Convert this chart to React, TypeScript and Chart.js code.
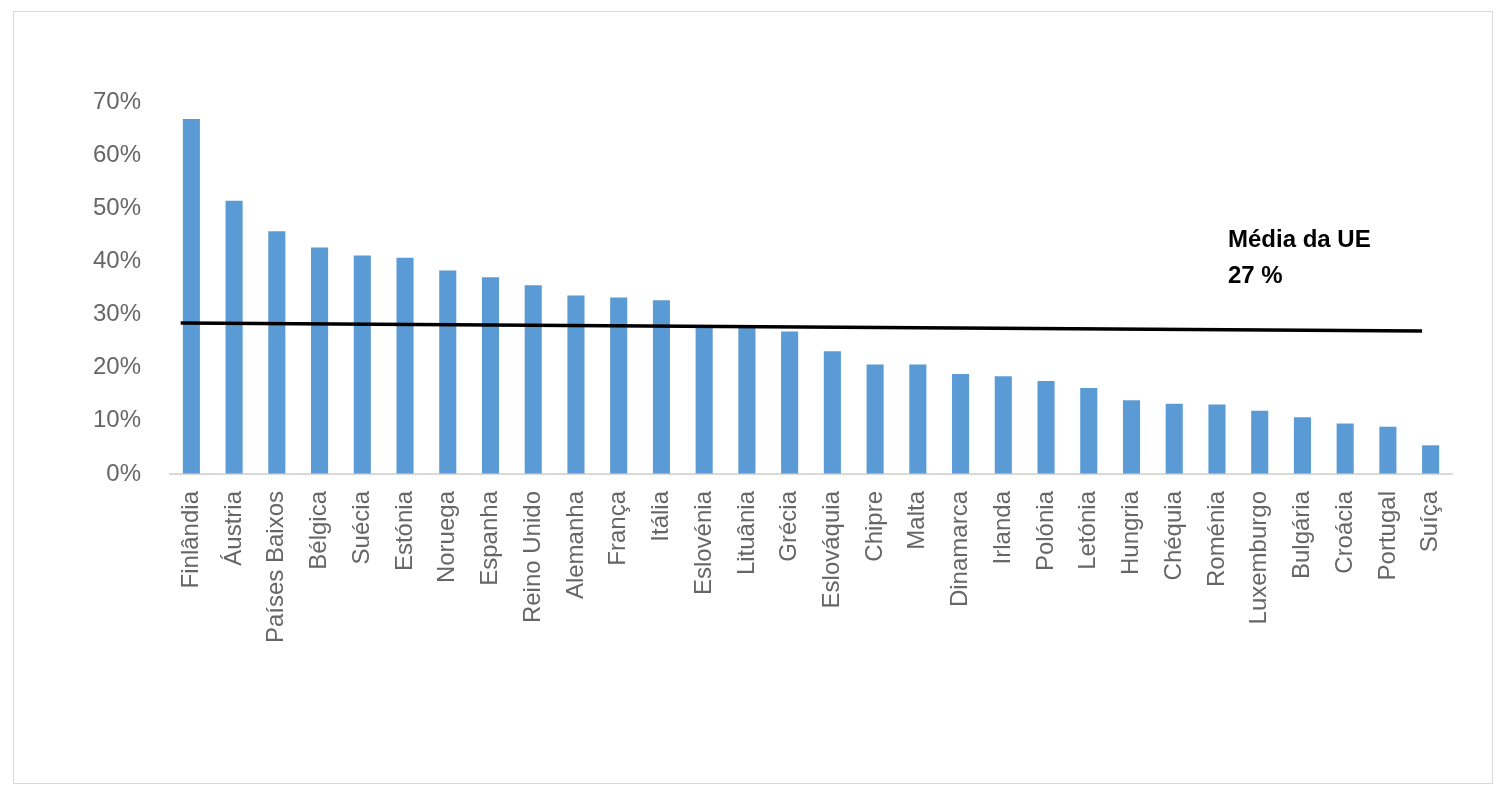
import React, { useEffect, useRef } from "react";
import { Chart, registerables } from "chart.js";

Chart.register(...registerables);

const countries = [
  "Finlândia", "Áustria", "Países Baixos", "Bélgica", "Suécia", "Estónia", "Noruega",
  "Espanha", "Reino Unido", "Alemanha", "França", "Itália", "Eslovénia", "Lituânia",
  "Grécia", "Eslováquia", "Chipre", "Malta", "Dinamarca", "Irlanda", "Polónia",
  "Letónia", "Hungria", "Chéquia", "Roménia", "Luxemburgo", "Bulgária", "Croácia",
  "Portugal", "Suíça",
];

const shares = [
  66.8, 51.4, 45.7, 42.6, 41.1, 40.7, 38.3,
  37.0, 35.5, 33.6, 33.2, 32.7, 27.7, 27.7,
  26.8, 23.1, 20.6, 20.6, 18.8, 18.4, 17.5,
  16.2, 13.9, 13.2, 13.1, 11.9, 10.7, 9.5,
  8.9, 5.4,
];

// EU average line: start and end points (category position, value)
const avgLineX = [-0.25, 28.8];
const avgLineY = [28.4, 26.9];

const avgLabel = ["Média da UE", "27 %"];

const yTicks = [0, 10, 20, 30, 40, 50, 60, 70];

const FONT = '"Liberation Sans", Arial, Helvetica, sans-serif';

export default function App() {
  const ref = useRef<HTMLCanvasElement | null>(null);

  useEffect(() => {
    if (!ref.current) return;

    const annotationPlugin = {
      id: "avgAnnotation",
      afterDraw(chart: any) {
        const { ctx, chartArea } = chart;
        ctx.save();
        ctx.fillStyle = "#000";
        ctx.font = `bold 24px ${FONT}`;
        ctx.textAlign = "left";
        ctx.textBaseline = "alphabetic";
        const x = chartArea.left + 1058;
        ctx.fillText(avgLabel[0], x, chartArea.top + 145);
        ctx.fillText(avgLabel[1], x, chartArea.top + 181);
        ctx.restore();
      },
    };

    const chart = new Chart(ref.current, {
      type: "bar",
      data: {
        labels: countries,
        datasets: [
          {
            type: "bar",
            data: shares,
            backgroundColor: "#5b9bd5",
            barPercentage: 0.5,
            categoryPercentage: 0.8,
            grouped: false,
            order: 2,
          } as any,
          {
            type: "line",
            xAxisID: "x2",
            data: avgLineX.map((x, i) => ({ x, y: avgLineY[i] })),
            borderColor: "#000",
            borderWidth: 3.5,
            pointRadius: 0,
            fill: false,
            order: 1,
          } as any,
        ],
      },
      options: {
        responsive: false,
        animation: false,
        layout: { padding: { left: 0, top: 90, right: 40, bottom: 0 } },
        plugins: {
          legend: { display: false },
          tooltip: { enabled: false },
          title: { display: false },
        },
        scales: {
          x: {
            type: "category",
            grid: { drawOnChartArea: false, drawTicks: false, color: "transparent" },
            border: { display: true, color: "#d9d9d9", width: 2 },
            ticks: {
              color: "#666666",
              font: { size: 24, family: FONT },
              maxRotation: 90,
              minRotation: 90,
              padding: 17,
              autoSkip: false,
            },
            afterFit(scale: any) {
              scale.height = 309;
            },
          },
          x2: {
            type: "linear",
            position: "top",
            display: true,
            offset: false,
            min: -0.5,
            max: 29.5,
            grid: { display: false, offset: false, drawTicks: false },
            border: { display: false },
            ticks: { display: false },
            afterFit(scale: any) {
              scale.height = 0;
              scale.paddingLeft = 0;
              scale.paddingRight = 0;
            },
          },
          y: {
            min: 0,
            max: 70,
            afterBuildTicks(scale: any) {
              scale.ticks = yTicks.map((v) => ({ value: v }));
            },
            grid: { drawOnChartArea: false, drawTicks: false, color: "transparent" },
            border: { display: false },
            ticks: {
              color: "#666666",
              font: { size: 24, family: FONT },
              padding: 29,
              callback: (v: any) => `${v}%`,
            },
            afterFit(scale: any) {
              scale.width = 156;
            },
          },
        },
      } as any,
      plugins: [annotationPlugin],
    });

    return () => chart.destroy();
  }, []);

  return (
    <div
      style={{
        position: "absolute",
        left: 13,
        top: 11,
        width: 1480,
        height: 773,
        border: "1px solid #d9d9d9",
        boxSizing: "border-box",
        background: "#fff",
      }}
    >
      <canvas ref={ref} width={1478} height={771} style={{ display: "block", width: 1478, height: 771 }} />
    </div>
  );
}
